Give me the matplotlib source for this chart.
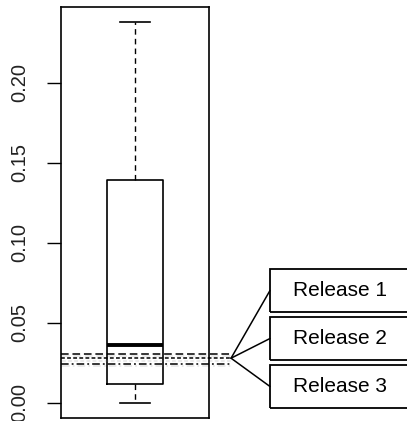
import matplotlib
matplotlib.use('Agg')
import matplotlib.pyplot as plt
import matplotlib.transforms as mtransforms
import matplotlib.patheffects as pe
from matplotlib.patches import Rectangle, ConnectionPatch

# box summary
whisker_low = 0.0
q1 = 0.0119
median = 0.0363
q3 = 0.1394
whisker_high = 0.238

# release reference lines
releases = ['Release 1', 'Release 2', 'Release 3']
release_values = [0.0308, 0.0279, 0.0245]
release_styles = [(0, (5, 2.5)), (0, (2.5, 1.5)), (0, (5, 2, 1.2, 2))]

yticks = [0.00, 0.05, 0.10, 0.15, 0.20]

plt.rcParams['font.family'] = ['Liberation Sans', 'DejaVu Sans']

fig = plt.figure(figsize=(4.07, 4.21), dpi=100)
ax = fig.add_axes([61 / 407, 3 / 421, 148 / 407, 411 / 421])

stats = [{'whislo': whisker_low, 'q1': q1, 'med': median, 'q3': q3,
          'whishi': whisker_high, 'fliers': []}]
ax.bxp(stats, positions=[1], widths=0.378, capwidths=[0.196], showfliers=False,
       boxprops=dict(color='black', linewidth=1.2),
       medianprops=dict(color='black', linewidth=2.8),
       whiskerprops=dict(color='black', linewidth=1.0, linestyle=(0, (4, 3))),
       capprops=dict(color='black', linewidth=1.2))

ax.set_xlim(0.5, 1.5)
ax.set_ylim(-0.0095, 0.2475)
ax.set_xticks([])
ax.set_yticks(yticks)
ax.set_yticklabels(['%.2f' % t for t in yticks], rotation=90, va='center',
                   fontsize=14.5, color='#222222')
ax.tick_params(axis='y', length=10, width=1.0, pad=13)
for s in ax.spines.values():
    s.set_linewidth(1.2)

# horizontal release lines, running past the right edge of the axes
trans = mtransforms.blended_transform_factory(ax.transAxes, ax.transData)
shadow = [pe.SimpleLineShadow(offset=(1, -2), shadow_color='gray', alpha=0.2),
          pe.Normal()]
for v, ls in zip(release_values, release_styles):
    ax.plot([0, 1.149], [v, v], color='black', linewidth=1.1, linestyle=ls,
            transform=trans, clip_on=False, path_effects=shadow)

# callout boxes
box_bottoms = [109, 61, 13]
box_h = 43
x_start = 1.149
y_start = release_values[1]
for name, b in zip(releases, box_bottoms):
    rect = Rectangle((270, b), 160, box_h, transform=None, fill=False,
                     edgecolor='black', linewidth=1.3, clip_on=False)
    fig.patches.append(rect)
    fig.text(340 / 407, (b + box_h / 2) / 421, name, fontsize=15,
             ha='center', va='center')
    con = ConnectionPatch(xyA=(x_start, y_start), coordsA=trans,
                          xyB=(270, b + box_h / 2), coordsB='figure pixels',
                          color='black', linewidth=1.1)
    fig.add_artist(con)

fig.savefig('out.png', dpi=100)
